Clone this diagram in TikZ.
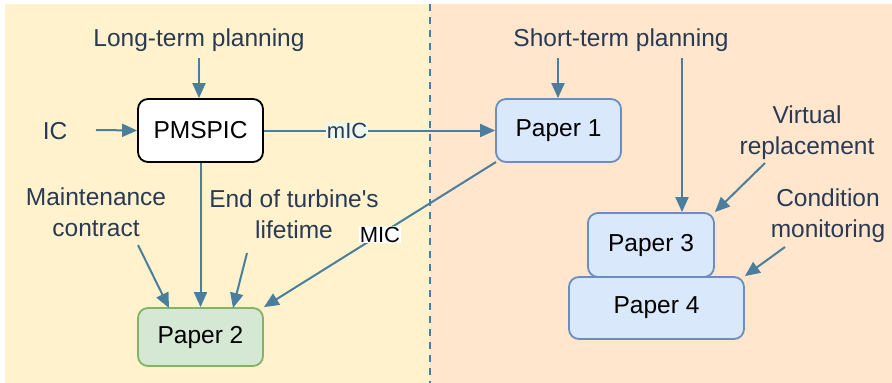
\documentclass[tikz,border=0pt]{standalone}
\usepackage{fontspec}
\setmainfont{Liberation Sans}
\usetikzlibrary{arrows.meta}
\definecolor{lpanel}{HTML}{FFF2CC}
\definecolor{rpanel}{HTML}{FFE6CC}
\definecolor{arr}{HTML}{4A7E9E}
\definecolor{txt}{HTML}{2A3A55}
\definecolor{bluefill}{HTML}{DAE8FC}
\definecolor{blueline}{HTML}{6C8EBF}
\definecolor{greenfill}{HTML}{D5E8D4}
\definecolor{greenline}{HTML}{82B366}
\definecolor{mintbg}{HTML}{EEF7EC}
\tikzset{
  box/.style={draw, rounded corners=10pt, line width=1.8pt, inner sep=0pt, font=\fontsize{24.5}{26}\selectfont, text=black},
  lbl/.style={text=txt, font=\fontsize{24.5}{31}\selectfont, align=center, inner sep=1pt},
  con/.style={draw=arr, line width=2pt, -{Triangle[length=15pt,width=13pt]}},
  plain/.style={draw=arr, line width=2pt}
}
\begin{document}
\begin{tikzpicture}[x=1pt,y=-1pt]
\useasboundingbox (0,0) rectangle (892,383);
\fill[white] (0,0) rectangle (892,383);
\fill[lpanel] (5,4) rectangle (430,383);
\fill[rpanel] (430,4) rectangle (892,383);
\draw[arr, line width=2pt, dash pattern=on 7pt off 6pt] (430,4) -- (430,383);

% boxes
\node[box, fill=white, draw=black, minimum width=125pt, minimum height=63pt] (pm) at (200.5,130.5) {PMSPIC};
\node[box, fill=bluefill, draw=blueline, minimum width=125pt, minimum height=63pt] (p1) at (558.5,130.5) {Paper 1};
\node[box, fill=greenfill, draw=greenline, minimum width=125pt, minimum height=58pt] (p2) at (200.5,337) {Paper 2};
\node[box, fill=bluefill, draw=blueline, minimum width=175pt, minimum height=62pt] (p4) at (656.5,308) {Paper 4};
\node[box, fill=bluefill, draw=blueline, minimum width=126pt, minimum height=64pt] (p3) at (651,245) {Paper 3};

% labels
\node[lbl] (lt) at (199,40) {Long-term planning};
\node[lbl] (ic) at (55,131) {IC};
\node[lbl] (mc) at (96,212) {Maintenance\\contract};
\node[lbl] (et) at (294,214) {End of turbine\textquotesingle s\\lifetime};
\node[lbl] (st) at (621,40) {Short-term planning};
\node[lbl] (vr) at (807,133) {Virtual\\replacement};
\node[lbl] (cm) at (828,216) {Condition\\monitoring};

\coordinate (ltS) at (199,58);
\coordinate (icE) at (96,130);
\coordinate (mcS) at (138,245);
\coordinate (etS) at (247,253);
\coordinate (stS) at (558,58);
\coordinate (stS2) at (682,58);
\coordinate (vrS) at (765,163);
\coordinate (cmS) at (785,247);
\coordinate (p1sw) at (496,162);

% connectors
\draw[con] (ltS) -- (ltS |- pm.north);
\draw[con] (icE) -- (pm.west);
\draw[con] (pm.east) -- node[pos=0.36, fill=mintbg, text=txt, font=\fontsize{22}{24}\selectfont, inner sep=1pt] {mIC} (p1.west);
\draw[con] (pm.south) -- (p2.north);
\draw[con] (mcS) -- (169,308);
\draw[con] (etS) -- (233,308);
\draw[con] (p1sw) -- node[pos=0.5, fill=white, text=black, font=\fontsize{22}{24}\selectfont, inner sep=1pt] {MIC} (p2.north east);
\draw[con] (stS) -- (stS |- p1.north);
\draw[con] (stS2) -- (stS2 |- p3.north);
\draw[con] (vrS) -- (p3.north east);
\draw[con] (cmS) -- (p4.north east);
\end{tikzpicture}
\end{document}
